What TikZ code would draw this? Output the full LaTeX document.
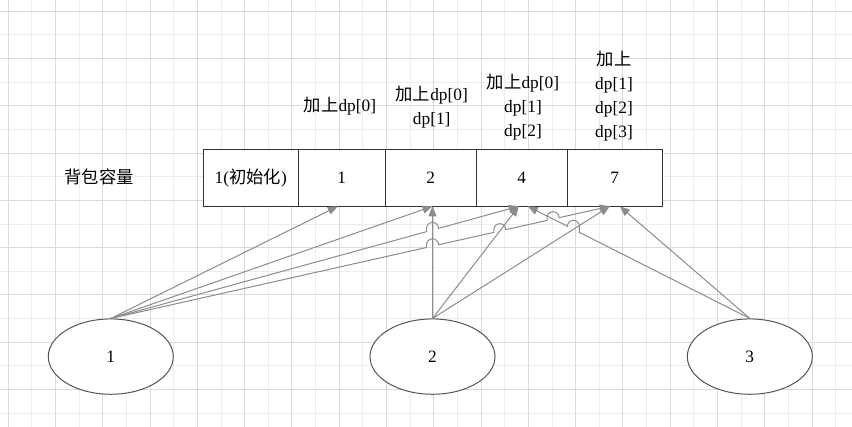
\documentclass[tikz,border=0pt]{standalone}
\usepackage{fontspec}
\setmainfont{Liberation Serif}
\newfontfamily\cjk{Noto Sans CJK SC}
\usetikzlibrary{arrows.meta,calc,shapes.geometric,positioning}

\definecolor{gridmajor}{RGB}{218,218,218}
\definecolor{gridminor}{RGB}{236,236,236}
\definecolor{linkgray}{RGB}{140,140,140}
\definecolor{boxline}{RGB}{51,51,51}
\definecolor{itemline}{RGB}{85,85,85}

\tikzset{
    cell/.style={draw=boxline, fill=white, line width=0.75pt, minimum height=42.75pt, inner sep=0pt, outer sep=0pt, font=\fontsize{13}{18}\selectfont},
    item/.style={ellipse, draw=itemline, fill=white, line width=0.75pt, minimum width=93.75pt, minimum height=56.5pt, inner sep=0pt, font=\fontsize{13}{18}\selectfont},
    note/.style={align=center, inner sep=0pt, font=\fontsize{13}{18}\selectfont},
    link/.style={draw=linkgray, line width=0.75pt, -{Triangle[length=7.5pt,width=6pt,fill=linkgray]}},
    hopr/.style={start angle=180, end angle=360, radius=6},
    hopl/.style={start angle=0, end angle=-180, radius=6}
}

\begin{document}
\begin{tikzpicture}[x=0.75pt,y=0.75pt,yscale=-1,xscale=1]
    \useasboundingbox (0,0) rectangle (852,427);
    \fill[white] (0,0) rectangle (852,427);

%Grid
    \foreach \k in {1,3,...,35} \draw[gridminor, line width=0.75pt] ({8.3+23.64*\k},0) -- ({8.3+23.64*\k},427);
    \foreach \k in {1,3,...,17} \draw[gridminor, line width=0.75pt] (0,{11.3+23.64*\k}) -- (852,{11.3+23.64*\k});
    \foreach \k in {0,2,...,34} \draw[gridmajor, line width=0.75pt] ({8.3+23.64*\k},0) -- ({8.3+23.64*\k},427);
    \foreach \k in {0,2,...,16} \draw[gridmajor, line width=0.75pt] (0,{11.3+23.64*\k}) -- (852,{11.3+23.64*\k});

%Shape: Rectangle
    \node[cell, minimum width=71.25pt, anchor=north west] (dp0) at (203.3,149.3) {1({\cjk 初始化})};
    \node[cell, minimum width=65.25pt, anchor=west] (dp1) at (dp0.east) {1};
    \node[cell, minimum width=68.25pt, anchor=west] (dp2) at (dp1.east) {2};
    \node[cell, minimum width=68.25pt, anchor=west] (dp3) at (dp2.east) {4};
    \node[cell, minimum width=71.25pt, anchor=west] (dp4) at (dp3.east) {7};

%Shape: Ellipse
    \node[item] (w1) at (110.8,356.6) {1};
    \node[item] (w2) at (432.5,356.6) {2};
    \node[item] (w3) at (749.8,356.6) {3};

% Text Node
    \node[note] (cap) at (99,177) {\cjk 背包容量};
% Text Node
    \node[note] (add1) at (340,106) {{\cjk 加上}dp[0]};
% Text Node
    \node[note] (add2) at (431.7,107) {{\cjk 加上}dp[0]\\dp[1]};
% Text Node
    \node[note] (add3) at (523,107.5) {{\cjk 加上}dp[0]\\dp[1]\\dp[2]};
% Text Node
    \node[note] (add4) at (614,96) {{\cjk 加上}\\dp[1]\\dp[2]\\dp[3]};

    \coordinate (to1) at ([xshift=-3pt]dp1.south);
    \coordinate (to2) at (w2.north |- dp2.south);
    \coordinate (to3l) at ([xshift=-2.25pt]dp3.south);
    \coordinate (to3r) at ([xshift=4.5pt]dp3.south);
    \coordinate (to4l) at ([xshift=-3.75pt]dp4.south);
    \coordinate (to4r) at ([xshift=3.75pt]dp4.south);

%Straight Lines
    \draw[link] (w1.north) -- (to1);
    \draw[link] (w1.north) -- (to2);
    \draw[link] (w1.north) -- ($(w1.north)!0.7738!(to3l)$) -- ++(0,-3.3) arc[hopr] -- (to3l);
    \draw[link] (w1.north) -- ($(w1.north)!0.6327!(to4l)$) -- ++(0,-2.7) arc[hopr]
        -- ($(w1.north)!0.7675!(to4l)$) -- ++(0,-2.7) arc[hopr]
        -- ($(w1.north)!0.8743!(to4l)$) -- ++(0,-2.7) arc[hopr] -- (to4l);
%Straight Lines
    \draw[link] (w2.north) -- (to2);
    \draw[link] (w2.north) -- (to3l);
    \draw[link] (w2.north) -- (to4l);
%Straight Lines
    \draw[link] (w3.north) -- ($(w3.north)!0.7676!(to3r)$) -- ++(0,-6.1) arc[hopl] -- (to3r);
    \draw[link] (w3.north) -- (to4r);

\end{tikzpicture}
\end{document}
